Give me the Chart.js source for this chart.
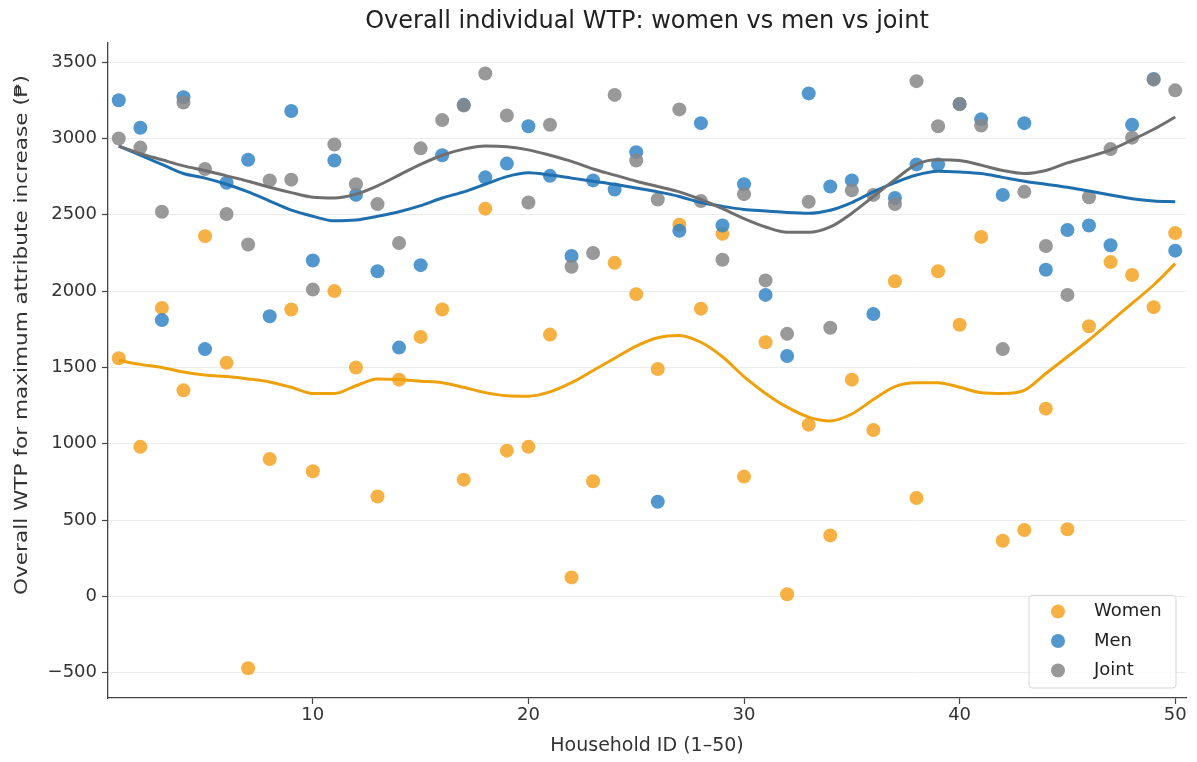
<!DOCTYPE html>
<html>
<head>
<meta charset="utf-8">
<title>Overall individual WTP</title>
<script src="https://cdn.jsdelivr.net/npm/chart.js@4.4.1/dist/chart.umd.min.js"></script>
<style>
  html, body { margin: 0; padding: 0; background: #fff; }
  #wrap { width: 1197px; height: 762px; }
</style>
</head>
<body>
<div id="wrap"><canvas id="wtpChart" width="1197" height="762"></canvas></div>
<script>
// ---- data ----
const households = [1, 2, 3, 4, 5, 6, 7, 8, 9, 10, 11, 12, 13, 14, 15, 16, 17, 18, 19, 20,
  21, 22, 23, 24, 25, 26, 27, 28, 29, 30, 31, 32, 33, 34, 35, 36, 37, 38, 39, 40,
  41, 42, 43, 44, 45, 46, 47, 48, 49, 50];

const womenWTP = [1560, 980, 1890, 1350, 2360, 1530, -470, 900, 1880, 820,
  2000, 1500, 655, 1420, 1700, 1880, 765, 2540, 955, 980,
  1715, 125, 755, 2185, 1980, 1490, 2435, 1885, 2375, 785,
  1665, 15, 1125, 400, 1420, 1090, 2065, 645, 2130, 1780,
  2355, 365, 435, 1230, 440, 1770, 2190, 2105, 1895, 2380];

const menWTP = [3250, 3070, 1810, 3270, 1620, 2710, 2860, 1835, 3180, 2200,
  2855, 2630, 2130, 1630, 2170, 2890, 3220, 2745, 2835, 3080,
  2755, 2230, 2725, 2665, 2910, 620, 2395, 3100, 2430, 2700,
  1975, 1575, 3295, 2685, 2725, 1850, 2610, 2830, 2830, 3225,
  3125, 2630, 3100, 2140, 2400, 2430, 2300, 3090, 3390, 2265];

const jointWTP = [3000, 2940, 2520, 3235, 2800, 2505, 2305, 2725, 2730, 2010,
  2960, 2700, 2570, 2315, 2935, 3120, 3215, 3425, 3150, 2580,
  3090, 2160, 2250, 3285, 2855, 2600, 3190, 2590, 2205, 2635,
  2070, 1720, 2585, 1760, 2660, 2630, 2570, 3375, 3080, 3225,
  3085, 1620, 2650, 2295, 1975, 2615, 2930, 3005, 3385, 3315];

// smoothed trend lines
const womenTrend = [1547, 1520, 1500, 1470, 1450, 1440, 1425, 1405, 1370, 1330,
  1330, 1380, 1425, 1421, 1410, 1400, 1370, 1335, 1315, 1312,
  1340, 1400, 1480, 1560, 1640, 1695, 1710, 1665, 1570, 1440,
  1330, 1240, 1175, 1150, 1195, 1290, 1375, 1400, 1400, 1370,
  1335, 1330, 1350, 1460, 1570, 1680, 1800, 1920, 2040, 2180];

const menTrend = [2950, 2890, 2830, 2770, 2740, 2700, 2650, 2590, 2530, 2490,
  2460, 2465, 2490, 2520, 2560, 2610, 2650, 2700, 2750, 2775,
  2760, 2740, 2720, 2700, 2675, 2650, 2620, 2580, 2555, 2535,
  2525, 2515, 2510, 2530, 2580, 2650, 2710, 2760, 2785, 2780,
  2770, 2745, 2720, 2700, 2680, 2655, 2630, 2605, 2590, 2585];

const jointTrend = [2950, 2900, 2860, 2820, 2790, 2755, 2720, 2680, 2645, 2615,
  2610, 2635, 2690, 2760, 2830, 2890, 2930, 2950, 2945, 2925,
  2890, 2850, 2800, 2760, 2720, 2685, 2650, 2600, 2540, 2475,
  2420, 2385, 2385, 2420, 2510, 2620, 2730, 2830, 2860, 2855,
  2825, 2790, 2770, 2790, 2840, 2880, 2925, 2990, 3060, 3140];

const xTicks = [10, 20, 30, 40, 50];
const yTicks = [-500, 0, 500, 1000, 1500, 2000, 2500, 3000, 3500];

const seriesNames = ["Women", "Men", "Joint"];
const pointColors = ["rgba(245,163,35,0.85)", "rgba(52,133,196,0.85)", "rgba(135,135,135,0.85)"];
const lineColors = ["#eda10c", "#1f6fae", "#6f6f6f"];

const FONT = "'DejaVu Sans', Verdana, sans-serif";
const TICK_SIZE = 18;

/* ------------------------------------------
 * HELPERS
 * ------------------------------------------ */
const toPoints = vals => vals.map((v, i) => ({ x: households[i], y: v }));
const fmtTick = v => (v < 0 ? "\u2212" + Math.abs(v) : String(v));

const scatterSet = (idx, vals) => ({
  type: "scatter",
  label: seriesNames[idx],
  data: toPoints(vals),
  backgroundColor: pointColors[idx],
  borderColor: pointColors[idx],
  borderWidth: 0,
  pointRadius: 7,
  order: 10 - idx
});

const trendSet = (idx, vals) => ({
  type: "line",
  label: seriesNames[idx] + " trend",
  data: toPoints(vals),
  borderColor: lineColors[idx],
  borderWidth: 3,
  pointRadius: 0,
  fill: false,
  tension: 0.4,
  cubicInterpolationMode: "monotone",
  order: 3 - idx,
  isTrend: true
});

// title centred on the plot area, like matplotlib
const plotTitle = {
  id: "plotTitle",
  afterDraw(chart) {
    const { ctx, chartArea } = chart;
    ctx.save();
    ctx.fillStyle = "#222";
    ctx.font = `24px ${FONT}`;
    ctx.textAlign = "center";
    ctx.textBaseline = "middle";
    ctx.fillText("Overall individual WTP: women vs men vs joint", (chartArea.left + chartArea.right) / 2, 22);
    ctx.restore();
  }
};

// vertical axis label, stretched along its length like the source image
const yAxisLabel = {
  id: "yAxisLabel",
  afterDraw(chart) {
    const { ctx } = chart;
    const text = "Overall WTP for maximum attribute increase (₱)";
    ctx.save();
    ctx.font = `18px ${FONT}`;
    ctx.fillStyle = "#333";
    ctx.textAlign = "center";
    ctx.textBaseline = "middle";
    const k = 520 / ctx.measureText(text).width;
    ctx.translate(22, 335);
    ctx.rotate(-Math.PI / 2);
    ctx.scale(k, 1);
    ctx.fillText(text, 0, 0);
    ctx.restore();
  }
};

// legend boxed in the lower right corner of the plot
const cornerLegend = {
  id: "cornerLegend",
  afterDraw(chart) {
    const { ctx, chartArea } = chart;
    const sets = chart.data.datasets.filter(d => !d.isTrend);
    const w = 147, rowH = 29.5, h = 18 + rowH * sets.length - 14;
    const x0 = chartArea.right - 10 - w;
    const y0 = chartArea.bottom - 10 - h;
    ctx.save();
    ctx.fillStyle = "rgba(255,255,255,0.85)";
    ctx.strokeStyle = "#d6d6d6";
    ctx.lineWidth = 1;
    ctx.beginPath();
    ctx.roundRect(x0, y0, w, h, 3);
    ctx.fill();
    ctx.stroke();
    ctx.font = `${TICK_SIZE}px ${FONT}`;
    ctx.textBaseline = "middle";
    sets.forEach((d, i) => {
      const cy = y0 + 16 + i * rowH;
      ctx.fillStyle = d.backgroundColor;
      ctx.beginPath();
      ctx.arc(x0 + 29, cy, 7, 0, Math.PI * 2);
      ctx.fill();
      ctx.fillStyle = "#222";
      ctx.fillText(d.label, x0 + 65, cy);
    });
    ctx.restore();
  }
};

/* ------------------------------------------
 * CHART
 * ------------------------------------------ */
Chart.defaults.font.family = FONT;
Chart.defaults.color = "#333";

new Chart(document.getElementById("wtpChart"), {
  data: {
    datasets: [
      scatterSet(0, womenWTP),
      scatterSet(1, menWTP),
      scatterSet(2, jointWTP),
      trendSet(0, womenTrend),
      trendSet(1, menTrend),
      trendSet(2, jointTrend)
    ]
  },
  options: {
    responsive: false,
    animation: false,
    layout: { padding: { top: 43, right: 11, left: 0, bottom: 0 } },
    plugins: {
      legend: { display: false },
      title: { display: false },
      tooltip: { enabled: false }
    },
    scales: {
      x: {
        type: "linear",
        min: 0.5,
        max: 50.5,
        afterBuildTicks: s => { s.ticks = xTicks.map(v => ({ value: v })); },
        afterFit: s => { s.height = 64; },
        ticks: { font: { size: TICK_SIZE }, color: "#333", padding: 1, maxRotation: 0 },
        grid: { drawOnChartArea: false, tickColor: "#444", tickLength: 6, tickWidth: 1.2 },
        border: { color: "#444", width: 1.3 },
        title: {
          display: true,
          text: "Household ID (1–50)",
          font: { size: 19 },
          color: "#333",
          padding: { top: 4, bottom: 5 }
        }
      },
      y: {
        type: "linear",
        min: -665,
        max: 3625,
        afterBuildTicks: s => { s.ticks = yTicks.map(v => ({ value: v })); },
        afterFit: s => { s.width = 108; },
        ticks: { font: { size: TICK_SIZE }, color: "#333", padding: 5, callback: fmtTick },
        grid: { color: "#ececec", lineWidth: 1, tickColor: "#444", tickLength: 6, tickWidth: 1.2 },
        border: { color: "#444", width: 1.3 },
        title: { display: false }
      }
    }
  },
  plugins: [plotTitle, yAxisLabel, cornerLegend]
});
</script>
</body>
</html>
